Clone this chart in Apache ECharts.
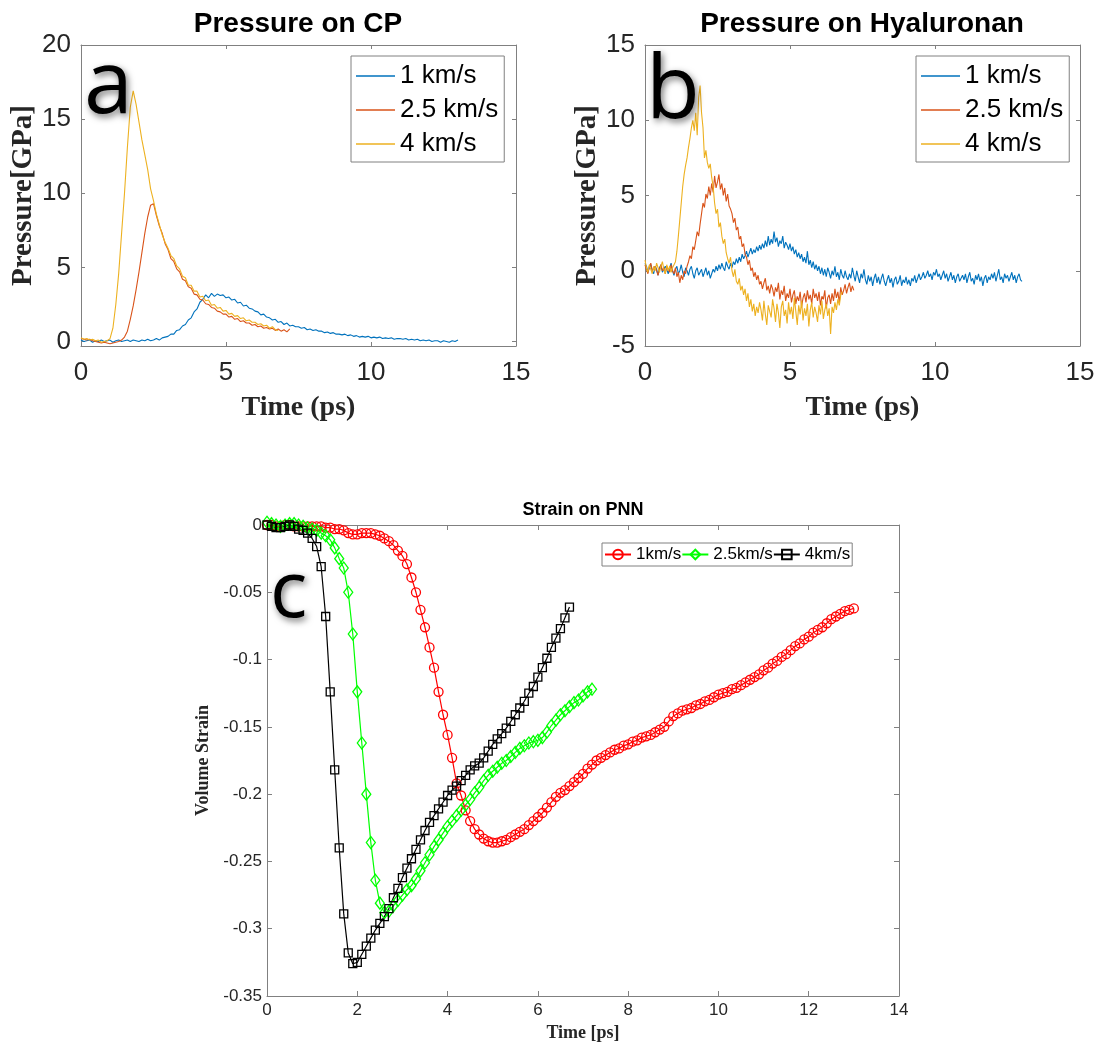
<!DOCTYPE html>
<html>
<head>
<meta charset="utf-8">
<title>Pressure on CP / Hyaluronan, strain on PNN</title>
<script src="https://cdn.jsdelivr.net/npm/echarts@6/dist/echarts.min.js"></script>
<style>
  html, body { margin: 0; padding: 0; background: #fff; }
  #chart { width: 1098px; height: 1045px; }
</style>
</head>
<body>
<div id="chart"></div>
<script>
// sampling step of each panel's traces, in ps
const stepA = 0.1;
const stepB = 0.05;
const stepC = 0.1;

const namesAB = ['1 km/s', '2.5 km/s', '4 km/s'];
const namesC = ['1km/s', '2.5km/s', '4km/s'];

const timeTicksAB = [0, 5, 10, 15];
const cpTicks = [0, 5, 10, 15, 20];
const haTicks = [-5, 0, 5, 10, 15];
const timeTicksC = [0, 2, 4, 6, 8, 10, 12, 14];
const strainTicks = [-0.35, -0.3, -0.25, -0.2, -0.15, -0.1, -0.05, 0];

// panel a: pressure on CP (GPa), one value per stepA
const cpSlow = [
  0.1, 0.0, 0.05, 0.1, -0.05, 0.05, 0.0, 0.1, 0.0, 0.05,
  0.1, -0.05, 0.05, 0.1, 0.0, 0.05, 0.1, 0.0, 0.1, 0.05,
  0.0, 0.1, 0.05, 0.15, 0.05, 0.1, 0.2, 0.1, 0.25, 0.3,
  0.35, 0.5, 0.5, 0.75, 0.8, 1.05, 1.15, 1.45, 1.6, 2.0,
  2.2, 2.65, 2.85, 3.15, 2.95, 3.25, 3.05, 3.2, 3.1, 3.15,
  2.95, 3.0, 2.8, 2.85, 2.6, 2.65, 2.4, 2.45, 2.25, 2.2,
  2.05, 2.0, 1.8, 1.85, 1.65, 1.6, 1.45, 1.5, 1.3, 1.35,
  1.15, 1.25, 1.05, 1.1, 1.0, 1.0, 0.9, 0.95, 0.8, 0.85,
  0.75, 0.8, 0.7, 0.7, 0.6, 0.65, 0.55, 0.6, 0.5, 0.5,
  0.45, 0.5, 0.4, 0.45, 0.35, 0.4, 0.3, 0.35, 0.3, 0.35,
  0.25, 0.3, 0.25, 0.3, 0.2, 0.25, 0.2, 0.25, 0.15, 0.2,
  0.2, 0.15, 0.2, 0.1, 0.15, 0.1, 0.15, 0.05, 0.1, 0.05,
  0.1, 0.0, 0.05, 0.05, -0.05, 0.05, 0.0, -0.05, 0.05, 0.0,
  0.1
];
const cpMid = [
  0.2, 0.15, 0.1, 0.15, 0.05, 0.0, -0.05, -0.1, -0.05, -0.1,
  -0.15, -0.1, -0.05, 0.0, 0.1, 0.3, 0.7, 1.5, 2.4, 3.5,
  4.7, 6.0, 7.3, 8.4, 9.2, 9.3, 8.5, 7.8, 7.3, 6.6,
  6.2, 5.6, 5.4, 4.9, 4.7, 4.2, 4.1, 3.7, 3.6, 3.2,
  3.15, 2.85, 2.8, 2.55, 2.5, 2.3, 2.25, 2.05, 2.0, 1.85,
  1.85, 1.65, 1.7, 1.5, 1.55, 1.35, 1.4, 1.25, 1.25, 1.1,
  1.15, 1.0, 1.05, 0.9, 0.95, 0.85, 0.9, 0.75, 0.85, 0.7,
  0.8, 0.65, 0.85
];
const cpFast = [
  0.25, 0.15, 0.2, 0.1, 0.15, 0.05, 0.1, -0.05, 0.0, 0.05,
  0.2, 0.9, 2.5, 4.6, 7.3, 10.0, 13.1, 15.8, 16.9, 16.0,
  14.8, 13.6, 12.6, 11.6, 10.3, 9.5, 8.6, 7.9, 7.2, 6.7,
  6.3, 5.8, 5.6, 5.1, 4.9, 4.4, 4.3, 3.8, 3.8, 3.4,
  3.4, 3.0, 3.05, 2.75, 2.8, 2.45, 2.5, 2.25, 2.3, 2.05,
  2.1, 1.85, 1.9, 1.7, 1.75, 1.55, 1.6, 1.4, 1.45, 1.3,
  1.3, 1.15, 1.2, 1.05, 1.1, 0.9, 1.0, 0.8, 0.75
];

// panel b: pressure on hyaluronan (GPa), one value per stepB
const haSlow = [
  0.5, 0.3, -0.1, 0.2, 0.4, 0.0, -0.2, 0.3, 0.1, -0.3, 0.2, 0.4, -0.1, 0.0, 0.3, 0.1, -0.2, 0.2, 0.5, 0.0,
  -0.3, 0.1, 0.3, -0.2, 0.0, 0.4, -0.1, -0.4, 0.2, 0.0, -0.3, 0.1, 0.3, -0.2, -0.5, 0.0, 0.2, -0.3, -0.1, 0.1,
  -0.4, -0.1, 0.2, -0.3, 0.0, -0.5, -0.2, 0.1, -0.1, 0.3, 0.0, 0.4, 0.1, 0.5, 0.2, 0.0, 0.6, 0.3, 0.1, 0.5,
  0.2, 0.6, 0.4, 0.8, 0.5, 0.9, 0.6, 1.1, 0.8, 1.0, 1.3, 0.9, 1.2, 1.5, 1.1, 1.4, 1.2, 1.6, 1.3, 1.7,
  1.4, 1.8, 1.5, 2.0, 1.6, 2.3, 1.7, 2.1, 1.8, 2.6, 1.9, 2.2, 1.6, 2.0, 1.8, 2.3, 1.5, 1.9, 1.7, 1.4,
  1.8, 1.3, 1.6, 1.1, 1.4, 0.9, 1.2, 0.8, 1.1, 0.6, 0.9, 0.5, 1.3, 0.4, 0.7, 0.2, 0.6, 0.1, 0.4, 0.0,
  0.3, -0.2, 0.2, -0.3, 0.1, -0.4, 0.2, -0.1, -0.5, 0.0, -0.3, 0.3, -0.4, -0.1, -0.6, 0.1, -0.3, -0.5, 0.0, -0.4,
  -0.6, -0.2, -0.5, 0.2, -0.3, -0.7, 0.0, -0.4, -0.8, -0.2, -0.5, 0.1, -0.6, -0.9, -0.3, -0.7, -0.4, -1.0, -0.5, -0.2,
  -0.8, -0.4, -0.9, -0.5, -0.2, -0.7, -1.0, -0.6, -0.3, -0.8, -0.5, -1.1, -0.6, -0.4, -0.9, -0.7, -0.3, -1.0, -0.6, -0.8,
  -0.4, -0.9, -0.6, -1.0, -0.5, -0.7, -0.3, -0.8, -0.5, -0.2, -0.6, -0.4, -0.1, -0.5, -0.3, 0.0, -0.4, -0.2, -0.6, -0.1,
  -0.3, 0.1, -0.4, -0.2, -0.6, -0.3, 0.0, -0.5, -0.2, -0.7, -0.4, -0.1, -0.6, -0.3, -0.8, -0.4, -0.2, -0.7, -0.5, -0.3,
  -0.6, -0.2, -0.8, -0.4, -0.1, -0.7, -0.5, -0.9, -0.3, -0.6, -0.2, -0.7, -0.4, -1.0, -0.5, -0.3, -0.8, -0.4, -0.6, -0.2,
  -0.5, -0.1, -0.7, -0.3, 0.1, -0.6, -0.4, -0.8, -0.2, -0.5, -0.3, -0.7, -0.4, -0.1, -0.6, -0.3, -0.8, -0.4, -0.2, -0.6,
  -0.7
];
const haMid = [
  0.4, 0.1, -0.2, 0.3, 0.5, 0.0, -0.1, 0.3, 0.2, -0.3, 0.1, 0.4, 0.0, 0.2, -0.2, 0.3, 0.1, -0.1, 0.4, 0.0,
  -0.2, 0.2, -0.4, -0.1, -0.8, -0.3, -0.6, 0.0, -0.2, 0.3, 0.6, 1.0, 0.8, 1.6, 1.4, 2.0, 2.6, 2.3, 3.1, 3.8,
  4.5, 4.2, 5.1, 4.8, 5.6, 5.0, 5.8, 5.2, 6.3, 5.5, 5.9, 6.4, 5.4, 5.8, 5.0, 5.5, 4.6, 5.1, 4.3, 4.1,
  3.8, 3.2, 3.5, 2.7, 2.9, 2.1, 2.3, 1.6, 1.8, 1.1, 0.9, 0.4, 0.7, 0.0, 0.2, -0.4, -0.1, -0.6, -0.3, -0.9,
  -0.7, -1.2, -0.8, -0.5, -1.3, -1.0, -1.5, -0.9, -1.2, -1.7, -1.1, -1.4, -0.8, -1.9, -1.3, -1.6, -1.0, -2.0, -1.5, -1.8,
  -1.2, -2.1, -1.6, -1.3, -2.2, -1.7, -2.0, -1.4, -2.4, -1.8, -1.5, -2.1, -1.3, -1.9, -1.6, -2.2, -1.2, -1.8, -1.5, -2.0,
  -1.4, -2.3, -1.7, -1.9, -1.3, -2.5, -1.8, -1.6, -2.2, -1.5, -2.0, -1.2, -1.8, -1.4, -2.1, -1.1, -1.6, -1.3, -0.9, -1.5,
  -1.1, -0.8, -1.4, -1.0, -1.3
];
const haFast = [
  0.7, 0.2, -0.1, 0.4, 0.1, -0.2, 0.3, 0.0, 0.5, 0.2, -0.1, 0.3, 0.6, 0.1, -0.2, 0.4, 0.0, 0.3, -0.1, 0.2,
  0.3, 0.6, 1.3, 2.3, 3.4, 4.5, 5.6, 6.4, 7.0, 7.5, 8.2, 8.8, 9.5, 10.0, 9.3, 10.5, 9.0, 11.5, 12.3, 10.5,
  9.5, 7.5, 8.0, 7.2, 6.8, 7.1, 6.2, 5.6, 4.5, 3.8, 4.1, 2.9, 3.2, 2.3, 1.8, 2.1, 1.2, 0.8, 0.5, 0.9,
  0.0, -0.4, 0.1, -0.7, -0.9, -0.5, -1.3, -1.0, -1.6, -1.2, -2.0, -1.5, -2.4, -1.9, -2.7, -2.2, -3.0, -2.4, -2.8, -2.1,
  -2.6, -3.3, -2.0, -2.9, -3.6, -2.3, -2.7, -3.1, -1.9, -2.5, -3.4, -2.2, -2.8, -3.8, -2.4, -2.0, -3.0, -2.6, -3.5, -2.1,
  -2.9, -2.4, -3.2, -1.8, -2.7, -3.6, -2.3, -2.9, -2.0, -3.3, -2.5, -3.0, -2.2, -3.7, -2.6, -2.1, -3.1, -2.4, -2.8, -3.4,
  -2.3, -2.9, -2.0, -3.2, -2.6, -2.2, -3.0, -2.5, -4.2, -2.4, -2.8, -2.1, -2.6, -1.9, -2.3, -1.6, -1.4
];

// panel c: volume strain of the PNN, one value per stepC
const strainSlow = [
  0.000, 0.000, -0.001, -0.001, 0.000, 0.000, -0.001, -0.001, -0.001, -0.001,
  -0.001, -0.001, -0.001, -0.002, -0.002, -0.003, -0.003, -0.004, -0.006, -0.007,
  -0.007, -0.006, -0.006, -0.006, -0.007, -0.008, -0.010, -0.012, -0.015, -0.019,
  -0.023, -0.029, -0.039, -0.050, -0.063, -0.076, -0.091, -0.106, -0.124, -0.141,
  -0.156, -0.173, -0.192, -0.201, -0.212, -0.220, -0.226, -0.230, -0.233, -0.235,
  -0.236, -0.236, -0.235, -0.234, -0.232, -0.230, -0.228, -0.226, -0.223, -0.220,
  -0.217, -0.214, -0.210, -0.206, -0.202, -0.199, -0.197, -0.194, -0.191, -0.188,
  -0.185, -0.181, -0.178, -0.175, -0.173, -0.171, -0.169, -0.167, -0.166, -0.164,
  -0.163, -0.161, -0.160, -0.158, -0.157, -0.156, -0.154, -0.152, -0.150, -0.146,
  -0.142, -0.140, -0.138, -0.137, -0.136, -0.134, -0.133, -0.131, -0.130, -0.128,
  -0.126, -0.125, -0.124, -0.122, -0.121, -0.119, -0.117, -0.115, -0.113, -0.111,
  -0.108, -0.106, -0.103, -0.101, -0.098, -0.096, -0.093, -0.090, -0.088, -0.085,
  -0.083, -0.080, -0.078, -0.076, -0.073, -0.070, -0.068, -0.066, -0.064, -0.063,
  -0.062
];
const strainMid = [
  0.002, 0.001, 0.000, -0.001, 0.000, 0.001, 0.001, 0.000, -0.001, -0.002,
  -0.003, -0.004, -0.006, -0.008, -0.011, -0.017, -0.025, -0.032, -0.050, -0.081,
  -0.124, -0.162, -0.200, -0.236, -0.264, -0.281, -0.288, -0.287, -0.283, -0.279,
  -0.275, -0.271, -0.268, -0.263, -0.257, -0.251, -0.245, -0.239, -0.234, -0.229,
  -0.224, -0.220, -0.216, -0.212, -0.208, -0.204, -0.199, -0.195, -0.190, -0.186,
  -0.183, -0.180, -0.177, -0.175, -0.172, -0.169, -0.166, -0.164, -0.162, -0.161,
  -0.160, -0.158, -0.154, -0.149, -0.145, -0.141, -0.138, -0.135, -0.132, -0.130,
  -0.127, -0.124, -0.122
];
const strainFast = [
  0.000, -0.001, -0.002, -0.002, -0.001, 0.000, -0.001, -0.003, -0.004, -0.006,
  -0.010, -0.016, -0.031, -0.068, -0.124, -0.182, -0.240, -0.289, -0.318, -0.326,
  -0.325, -0.319, -0.313, -0.307, -0.301, -0.296, -0.291, -0.285, -0.277, -0.270,
  -0.262, -0.255, -0.248, -0.241, -0.234, -0.227, -0.221, -0.216, -0.211, -0.206,
  -0.201, -0.197, -0.194, -0.190, -0.186, -0.182, -0.179, -0.177, -0.173, -0.168,
  -0.163, -0.159, -0.155, -0.151, -0.146, -0.141, -0.136, -0.131, -0.125, -0.120,
  -0.113, -0.106, -0.099, -0.091, -0.084, -0.077, -0.069, -0.061
];

const colorsAB = ['#0072BD', '#D95319', '#EDB120'];
const colorsC = ['#ff0000', '#00ff00', '#000000'];
const boxGray = '#808080';
const inkGray = '#262626';

// [time, value] pairs on the sampling grid
const withTime = (values, step) => values.map((v, i) => [Math.round(i * step * 100) / 100, v]);

const serifName = (size) => ({
  fontFamily: 'Liberation Serif', fontWeight: 'bold', fontSize: size, color: inkGray,
});

// one framed axis: the labelled side plus a mirrored side with inner ticks only
const frameAxes = (gridIndex, sides, min, max, ticks, o) => [
  {
    type: 'value', gridIndex, position: sides[0], min, max,
    axisLine: { show: true, onZero: false, lineStyle: { color: boxGray, width: 1 } },
    axisTick: { show: true, inside: true, length: o.tickLen, customValues: ticks, lineStyle: { color: boxGray } },
    axisLabel: {
      customValues: ticks, margin: o.margin, color: inkGray,
      fontFamily: 'Liberation Sans', fontSize: o.labelSize,
    },
    splitLine: { show: false },
    name: o.name, nameLocation: 'middle', nameGap: o.nameGap, nameTextStyle: serifName(o.nameSize),
  },
  {
    type: 'value', gridIndex, position: sides[1], min, max,
    axisLine: { show: true, onZero: false, lineStyle: { color: boxGray, width: 1 } },
    axisTick: { show: true, inside: true, length: o.tickLen, customValues: ticks, lineStyle: { color: boxGray } },
    axisLabel: { show: false },
    splitLine: { show: false },
  },
];

const bigAB = { tickLen: 4, margin: 14, labelSize: 26, nameSize: 28 };
const xAxes = [
  ...frameAxes(0, ['bottom', 'top'], 0, 15, timeTicksAB, { ...bigAB, name: 'Time (ps)', nameGap: 48 }),
  ...frameAxes(1, ['bottom', 'top'], 0, 15, timeTicksAB, { ...bigAB, name: 'Time (ps)', nameGap: 48 }),
  ...frameAxes(2, ['bottom', 'top'], 0, 14, timeTicksC, {
    tickLen: 5, margin: 6, labelSize: 17, nameSize: 18, name: 'Time [ps]', nameGap: 28,
  }),
];
const yAxes = [
  ...frameAxes(0, ['left', 'right'], -0.3, 20, cpTicks, {
    ...bigAB, margin: 10, nameSize: 29, name: 'Pressure[GPa]', nameGap: 39,
  }),
  ...frameAxes(1, ['left', 'right'], -5, 15, haTicks, {
    ...bigAB, margin: 10, nameSize: 29, name: 'Pressure[GPa]', nameGap: 42,
  }),
  ...frameAxes(2, ['left', 'right'], -0.35, 0, strainTicks, {
    tickLen: 5, margin: 5, labelSize: 17, nameSize: 18, name: 'Volume Strain', nameGap: 49,
  }),
];

const pressureLine = (name, values, step, color, axisIndex) => ({
  name, type: 'line', data: withTime(values, step),
  xAxisIndex: axisIndex, yAxisIndex: axisIndex,
  symbol: 'none', lineStyle: { color, width: 1.1 }, itemStyle: { color },
  silent: true,
});

const strainLine = (name, values, color, symbol, symbolSize) => ({
  name, type: 'line', data: withTime(values, stepC),
  xAxisIndex: 4, yAxisIndex: 4,
  symbol, symbolSize, clip: false,
  lineStyle: { color, width: 1.2 },
  itemStyle: { color: 'rgba(0,0,0,0)', borderColor: color, borderWidth: 1.3 },
  silent: true,
});

const legendAB = (left) => ({
  data: namesAB, orient: 'vertical', left, top: 56,
  icon: 'rect', itemWidth: 39, itemHeight: 1.5, itemGap: 8,
  padding: [7, 6, 5, 5],
  borderColor: boxGray, borderWidth: 1, backgroundColor: '#fff',
  selectedMode: false,
  textStyle: { fontFamily: 'Liberation Sans', fontSize: 26, color: '#000' },
});

const panelLetter = (text, x, y, size) => ({
  type: 'text', x, y, z: 100,
  style: {
    text, fontFamily: 'Open Sans', fontSize: size, fill: '#000', verticalAlign: 'middle',
    textShadowColor: 'rgba(0,0,0,0.55)', textShadowBlur: 7, textShadowOffsetX: 2, textShadowOffsetY: 3,
  },
});

const panelTitle = (text, x, y, size) => ({
  type: 'text', x, y,
  style: {
    text, fontFamily: 'Liberation Sans', fontWeight: 'bold', fontSize: size, fill: '#000',
    align: 'center', verticalAlign: 'middle',
  },
});

const option = {
  animation: false,
  backgroundColor: '#fff',
  grid: [
    { left: 81, top: 45, width: 435, height: 301 },
    { left: 645, top: 45, width: 435, height: 301 },
    { left: 267, top: 525, width: 632, height: 471 },
  ],
  xAxis: xAxes,
  yAxis: yAxes,
  legend: [
    legendAB(351),
    legendAB(916),
    {
      data: namesC, orient: 'horizontal', left: 602, top: 543,
      itemWidth: 26, itemHeight: 12, itemGap: 0,
      padding: [3, 2, 3, 2],
      borderColor: boxGray, borderWidth: 1, backgroundColor: '#fff',
      selectedMode: false,
      textStyle: { fontFamily: 'Liberation Sans', fontSize: 17, color: '#000' },
    },
  ],
  graphic: [
    panelTitle('Pressure on CP', 298, 24, 28),
    panelTitle('Pressure on Hyaluronan', 862, 24, 28),
    panelTitle('Strain on PNN', 583, 510, 18),
    panelLetter('a', 84, 88, 88),
    panelLetter('b', 646, 93, 88),
    panelLetter('c', 270, 595, 78),
  ],
  series: [
    pressureLine(namesAB[0], cpSlow, stepA, colorsAB[0], 0),
    pressureLine(namesAB[1], cpMid, stepA, colorsAB[1], 0),
    pressureLine(namesAB[2], cpFast, stepA, colorsAB[2], 0),
    pressureLine(namesAB[0], haSlow, stepB, colorsAB[0], 2),
    pressureLine(namesAB[1], haMid, stepB, colorsAB[1], 2),
    pressureLine(namesAB[2], haFast, stepB, colorsAB[2], 2),
    strainLine(namesC[0], strainSlow, colorsC[0], 'circle', 9),
    strainLine(namesC[1], strainMid, colorsC[1], 'diamond', [9, 12]),
    strainLine(namesC[2], strainFast, colorsC[2], 'rect', 8),
  ],
};

const chart = echarts.init(document.getElementById('chart'));
chart.setOption(option);
</script>
</body>
</html>
